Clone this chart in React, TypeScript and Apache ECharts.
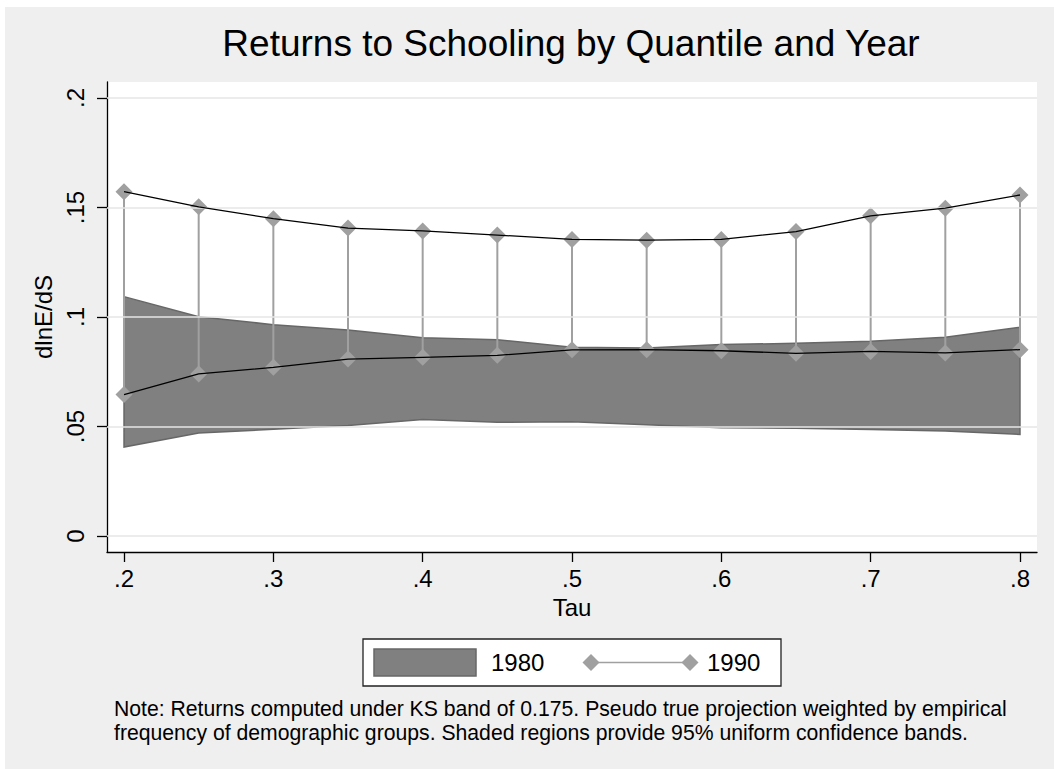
import React, { useEffect, useRef } from "react";
import * as echarts from "echarts";

// ---- data ----
const tau = [0.2, 0.25, 0.3, 0.35, 0.4, 0.45, 0.5, 0.55, 0.6, 0.65, 0.7, 0.75, 0.8];
const band1980Upper = [0.1093, 0.1001, 0.0965, 0.0941, 0.0905, 0.0896, 0.0862, 0.0859, 0.0874, 0.088, 0.0889, 0.0907, 0.0953];
const band1980Lower = [0.0406, 0.047, 0.0487, 0.0505, 0.0532, 0.0519, 0.0522, 0.0508, 0.0494, 0.0492, 0.0486, 0.0479, 0.0464];
const upper1990 = [0.1572, 0.1503, 0.1449, 0.1406, 0.1393, 0.1374, 0.1354, 0.1351, 0.1354, 0.139, 0.1462, 0.1497, 0.1557];
const lower1990 = [0.0646, 0.074, 0.077, 0.0808, 0.0816, 0.0825, 0.085, 0.0851, 0.0846, 0.0834, 0.0843, 0.0836, 0.0851];
const xTicks = [0.2, 0.3, 0.4, 0.5, 0.6, 0.7, 0.8];
const yTicks = [0, 0.05, 0.1, 0.15, 0.2];
const titleText = "Returns to Schooling by Quantile and Year";
const xName = "Tau";
const yName = "dlnE/dS";
const legendNames = ["1980", "1990"];
const noteLines = [
  "Note: Returns computed under KS band of 0.175. Pseudo true projection weighted by empirical",
  "frequency of demographic groups. Shaded regions provide 95% uniform confidence bands.",
];

const FONT = "'Liberation Sans', Arial, Helvetica, sans-serif";
const fmt = (v: number) => (Math.abs(v) < 1e-9 ? "0" : String(Number(v.toFixed(2))).replace(/^0\./, "."));

export default function App() {
  const ref = useRef<HTMLDivElement>(null);
  useEffect(() => {
    if (!ref.current) return;
    const chart = echarts.init(ref.current, null, { renderer: "svg" });
    const diamond = (cx: number, cy: number, s: number) => ({
      type: "polygon",
      shape: { points: [[cx, cy - s / 2], [cx + s / 2, cy], [cx, cy + s / 2], [cx - s / 2, cy]] },
      style: { fill: "#a0a0a0" },
    });
    const option: any = {
      animation: false,
      backgroundColor: "#efefef",
      title: {
        text: titleText,
        left: 566,
        top: 18,
        padding: 0,
        textAlign: "center",
        textStyle: { fontFamily: FONT, fontSize: 37, fontWeight: "normal", color: "#000" },
      },
      grid: {
        left: 102,
        top: 75,
        right: 17,
        bottom: 217,
        show: true,
        backgroundColor: "#ffffff",
        borderWidth: 0,
      },
      xAxis: {
        type: "value",
        min: 0.1886,
        max: 0.8114,
        name: xName,
        nameLocation: "middle",
        nameGap: 43,
        nameTextStyle: { fontFamily: FONT, fontSize: 24, color: "#000" },
        axisLine: { show: true, onZero: false, lineStyle: { color: "#000", width: 1.3 } },
        axisTick: { show: true, length: 10, customValues: xTicks, lineStyle: { color: "#000", width: 1.3 } },
        axisLabel: { customValues: xTicks, formatter: fmt, margin: 14, fontFamily: FONT, fontSize: 24, color: "#000" },
        splitLine: { show: false },
      },
      yAxis: {
        type: "value",
        min: -0.0073,
        max: 0.2073,
        name: yName,
        nameLocation: "middle",
        nameRotate: 90,
        nameGap: 48,
        nameTextStyle: { fontFamily: FONT, fontSize: 24, color: "#000" },
        axisLine: { show: true, onZero: false, lineStyle: { color: "#000", width: 1.3 } },
        axisTick: { show: true, length: 10, customValues: yTicks, lineStyle: { color: "#000", width: 1.3 } },
        axisLabel: { customValues: yTicks, formatter: fmt, rotate: 90, margin: 20, fontFamily: FONT, fontSize: 24, color: "#000" },
        splitLine: { show: false },
      },
      series: [
        {
          name: "grid",
          type: "line",
          z: 1,
          data: tau.map((t, i) => [t, lower1990[i]]),
          symbol: "none",
          lineStyle: { opacity: 0 },
          silent: true,
          markLine: {
            silent: true,
            symbol: ["none", "none"],
            label: { show: false },
            lineStyle: { color: "#e6e6e6", width: 1.5, type: "solid" },
            data: yTicks.map((v) => ({ yAxis: v })),
          },
        },
        {
          name: legendNames[0],
          type: "custom",
          z: 2,
          data: [[tau[0], band1980Lower[0]]],
          renderItem: (_p: any, api: any) => {
            const top = tau.map((t, i) => api.coord([t, band1980Upper[i]]));
            const bot = tau.map((t, i) => api.coord([t, band1980Lower[i]])).reverse();
            return {
              type: "polygon",
              shape: { points: [...top, ...bot] },
              style: { fill: "#808080", stroke: "#676767", lineWidth: 1.5 },
            };
          },
        },
        {
          name: legendNames[1],
          type: "custom",
          z: 3,
          data: tau.map((t, i) => [t, lower1990[i], upper1990[i]]),
          encode: { x: 0, y: [1, 2] },
          renderItem: (_p: any, api: any) => {
            const lo = api.coord([api.value(0), api.value(1)]);
            const hi = api.coord([api.value(0), api.value(2)]);
            return {
              type: "line",
              shape: { x1: lo[0], y1: lo[1], x2: hi[0], y2: hi[1] },
              style: { stroke: "#a0a0a0", lineWidth: 2 },
            };
          },
        },
        {
          name: "1990 upper",
          type: "scatter",
          z: 4,
          symbol: "diamond",
          symbolSize: 17,
          itemStyle: { color: "#a0a0a0", opacity: 1 },
          data: tau.map((t, i) => [t, upper1990[i]]),
        },
        {
          name: "1990 lower",
          type: "scatter",
          z: 4,
          symbol: "diamond",
          symbolSize: 17,
          itemStyle: { color: "#a0a0a0", opacity: 1 },
          data: tau.map((t, i) => [t, lower1990[i]]),
        },
        {
          name: "1990 upper line",
          type: "line",
          z: 5,
          symbol: "none",
          lineStyle: { color: "#000", width: 1.3 },
          data: tau.map((t, i) => [t, upper1990[i]]),
        },
        {
          name: "1990 lower line",
          type: "line",
          z: 5,
          symbol: "none",
          lineStyle: { color: "#000", width: 1.3 },
          data: tau.map((t, i) => [t, lower1990[i]]),
        },
      ],
      graphic: [
        {
          type: "rect",
          shape: { x: 358, y: 632, width: 418, height: 47 },
          style: { fill: "#fff", stroke: "#222", lineWidth: 1.3 },
        },
        {
          type: "rect",
          shape: { x: 369, y: 642, width: 102, height: 27 },
          style: { fill: "#808080", stroke: "#676767", lineWidth: 1.5 },
        },
        {
          type: "text",
          x: 486,
          y: 655.5,
          style: { text: legendNames[0], fontFamily: FONT, fontSize: 24, fill: "#000", verticalAlign: "middle", align: "left" },
        },
        {
          type: "line",
          shape: { x1: 586, y1: 655.5, x2: 685, y2: 655.5 },
          style: { stroke: "#a0a0a0", lineWidth: 1.5 },
        },
        diamond(586, 655.5, 17),
        diamond(685, 655.5, 17),
        {
          type: "text",
          x: 702,
          y: 655.5,
          style: { text: legendNames[1], fontFamily: FONT, fontSize: 24, fill: "#000", verticalAlign: "middle", align: "left" },
        },
        {
          type: "text",
          x: 109,
          y: 701,
          style: { text: noteLines[0], fontFamily: FONT, fontSize: 21.2, fill: "#000", verticalAlign: "middle", align: "left" },
        },
        {
          type: "text",
          x: 109,
          y: 725,
          style: { text: noteLines[1], fontFamily: FONT, fontSize: 21.2, fill: "#000", verticalAlign: "middle", align: "left" },
        },
      ],
    };
    chart.setOption(option);
    return () => chart.dispose();
  }, []);
  return (
    <div
      ref={ref}
      style={{ position: "absolute", left: 5, top: 7, width: 1049, height: 762 }}
    />
  );
}
